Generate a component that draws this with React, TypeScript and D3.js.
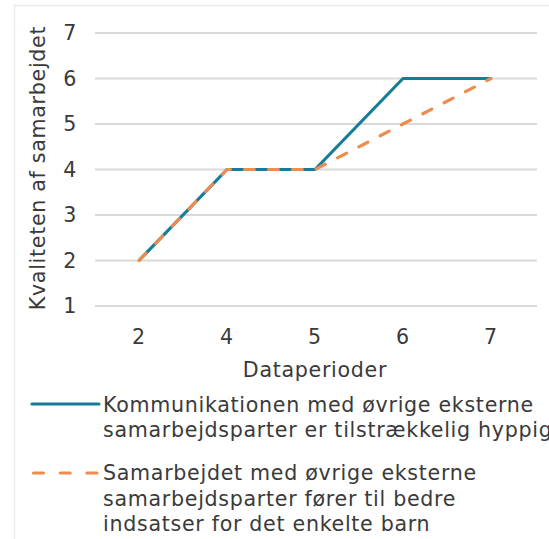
import React from "react";
import * as d3 from "d3";

const periods = ["2", "4", "5", "6", "7"];
const seriesKommunikation = [2, 4, 4, 6, 6];
const seriesSamarbejde = [2, 4, 4, 5, 6];
const yTicks = [1, 2, 3, 4, 5, 6, 7];
const legendLabels = [
  ["Kommunikationen med øvrige eksterne", "samarbejdsparter er tilstrækkelig hyppig"],
  ["Samarbejdet med øvrige eksterne", "samarbejdsparter fører til bedre", "indsatser for det enkelte barn"],
];

const W = 549;
const H = 539;
const FONT = "'DejaVu Sans', Verdana, sans-serif";
const FS = 20.6;
const LS = 0.7;
const TEXT = "#3a3a3a";
const BLUE = "#157d98";
const ORANGE = "#ee8b4e";

export default function App() {
  const x = d3.scaleBand<string>().domain(periods).range([95, 535]);
  const y = d3.scaleLinear().domain([1, 7]).range([306, 33]);
  const line = d3
    .line<number>()
    .x((_, i) => (x(periods[i]) as number) + x.bandwidth() / 2)
    .y((d) => y(d));

  const textProps = { fontFamily: FONT, fontSize: FS, fill: TEXT, letterSpacing: LS };

  return (
    <div style={{ position: "absolute", left: 0, top: 0 }}>
      <svg width={W} height={H} style={{ display: "block" }}>
        <rect x={0} y={0} width={W} height={H} fill="#fff" />
        <rect x={14.5} y={5.5} width={W} height={H} fill="none" stroke="#ebebeb" strokeWidth={1.5} />
        {yTicks.map((t) => (
          <g key={t}>
            <line x1={95} x2={537} y1={y(t)} y2={y(t)} stroke="#d9d9d9" strokeWidth={2} />
            <text x={77} y={y(t)} dy="0.36em" textAnchor="end" {...textProps}>
              {t}
            </text>
          </g>
        ))}
        {periods.map((p) => (
          <text
            key={p}
            x={(x(p) as number) + x.bandwidth() / 2}
            y={337}
            dy="0.36em"
            textAnchor="middle"
            {...textProps}
          >
            {p}
          </text>
        ))}
        <text x={315} y={370} dy="0.36em" textAnchor="middle" {...textProps}>
          Dataperioder
        </text>
        <text transform={`translate(38,168) rotate(-90)`} dy="0.36em" textAnchor="middle" {...textProps}>
          Kvaliteten af samarbejdet
        </text>
        <path d={line(seriesKommunikation) || ""} fill="none" stroke={BLUE} strokeWidth={3.2} strokeLinejoin="round" />
        <path
          d={line(seriesSamarbejde) || ""}
          fill="none"
          stroke={ORANGE}
          strokeWidth={3.2}
          strokeDasharray="10,14"
          strokeLinecap="round"
          strokeLinejoin="round"
        />
        {/* Legend */}
        <line x1={32} x2={99} y1={404} y2={404} stroke={BLUE} strokeWidth={3.2} strokeLinecap="round" />
        {legendLabels[0].map((s, i) => (
          <text key={s} x={103} y={411.5 + i * 25.5} {...textProps}>
            {s}
          </text>
        ))}
        <line
          x1={33.5}
          x2={99}
          y1={473}
          y2={473}
          stroke={ORANGE}
          strokeWidth={3.2}
          strokeDasharray="10,16.7"
          strokeLinecap="round"
        />
        {legendLabels[1].map((s, i) => (
          <text key={s} x={103} y={480 + i * 25.5} {...textProps}>
            {s}
          </text>
        ))}
      </svg>
    </div>
  );
}
